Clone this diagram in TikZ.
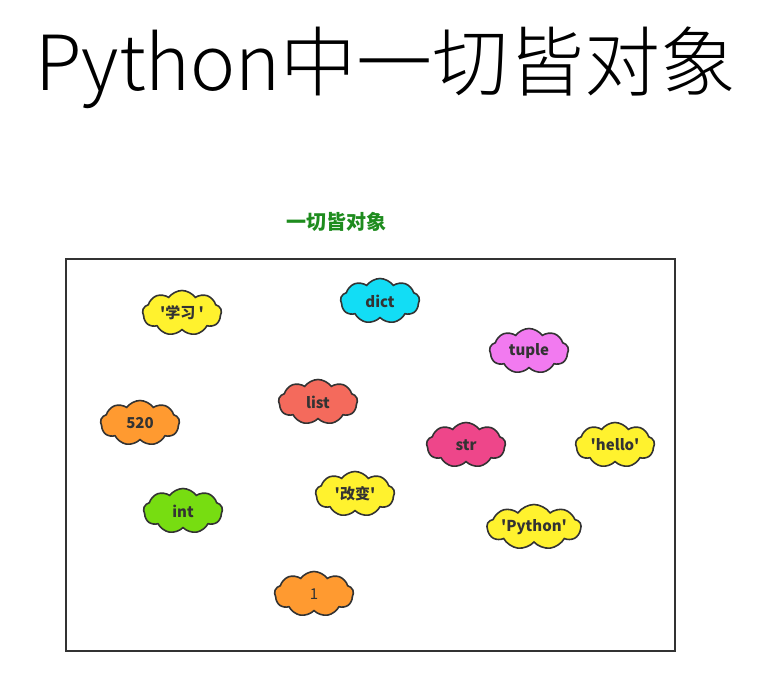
\documentclass[tikz,border=0pt]{standalone}
\usepackage{fontspec}
\newfontfamily\cjk{Noto Sans CJK SC}
\newfontfamily\cjklight{Noto Sans CJK SC Light}
\usetikzlibrary{shapes.symbols}
\definecolor{ink}{HTML}{333333}
\definecolor{titlegreen}{HTML}{1E8C1E}
\definecolor{yellow}{HTML}{FFF22E}
\definecolor{cyan}{HTML}{12DDF5}
\definecolor{violet}{HTML}{F27AF0}
\definecolor{salmon}{HTML}{F46A5C}
\definecolor{orange}{HTML}{FF9A30}
\definecolor{pink}{HTML}{EE468A}
\definecolor{lime}{HTML}{77DD11}

\begin{document}
\begin{tikzpicture}[x=1pt,y=-1pt,
  obj/.style={cloud,cloud puffs=9,cloud puff arc=110,cloud ignores aspect,draw=ink,line width=1.6pt,minimum width=79pt,minimum height=45pt,inner sep=0pt,text=ink,font=\cjk\bfseries\fontsize{15}{15}\selectfont}]
\useasboundingbox (0,0) rectangle (770,692);
\node[font=\cjklight\fontsize{76}{76}\selectfont] (title) at (386,68) {Python中一切皆对象};
\node[text=titlegreen,font=\cjk\bfseries\fontsize{20}{20}\selectfont] (sub) at (336,222) {一切皆对象};
\draw[ink,line width=1.5pt] (66,259) rectangle (675,651);
% objects
\node[obj,fill=yellow] (xuexi) at (182,313) {'学习 '};
\node[obj,fill=cyan] (dict) at (380,301) {dict};
\node[obj,fill=violet] (tuple) at (529,351) {tuple};
\node[obj,fill=salmon] (list) at (318,402) {list};
\node[obj,fill=orange] (n520) at (140,423) {520};
\node[obj,fill=pink] (str) at (466,445) {str};
\node[obj,fill=yellow] (hello) at (615,445) {'hello'};
\node[obj,fill=lime] (int) at (183,511) {int};
\node[obj,fill=yellow] (gaibian) at (355,494) {'改变'};
\node[obj,fill=yellow,minimum width=94pt] (python) at (534,527) {'Python'};
\node[obj,fill=orange,font=\cjk\fontsize{15}{15}\selectfont] (one) at (314,594) {1};
\end{tikzpicture}
\end{document}
